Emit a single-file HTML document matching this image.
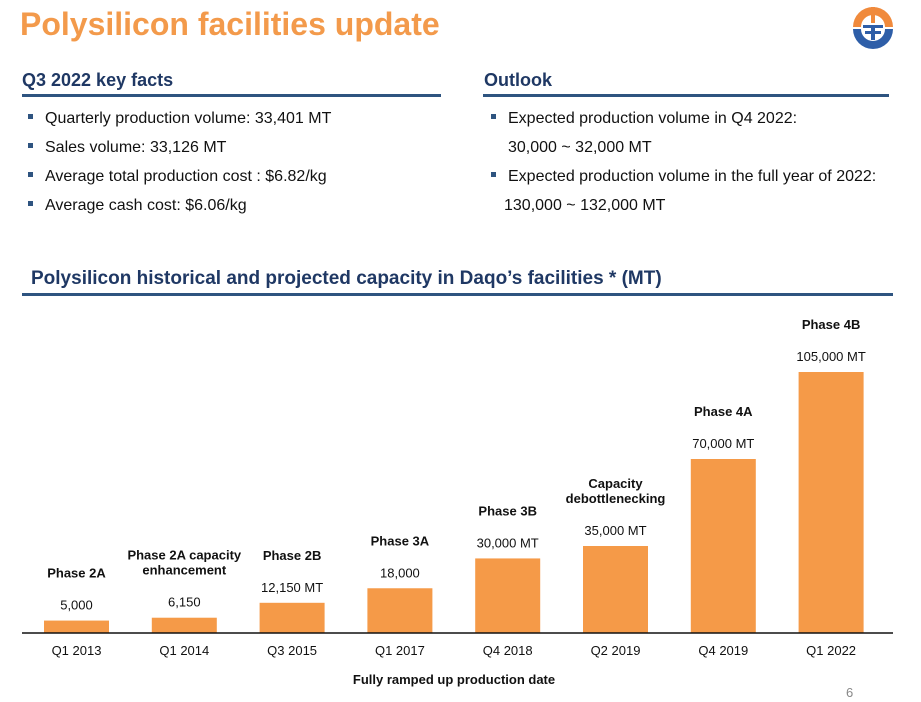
<!DOCTYPE html>
<html><head><meta charset="utf-8"><style>
body{margin:0;width:921px;height:702px;background:#fff;font-family:"Liberation Sans",sans-serif;position:relative;overflow:hidden}
.a{position:absolute;white-space:nowrap}
.h{color:#1F3864;font-weight:bold;font-size:18px}
.ln{position:absolute;height:3px;background:#2E5480}
.b{font-size:16px;color:#111}
.sq{display:inline-block;width:5px;height:5px;background:#2E5480;margin-right:12px;vertical-align:middle;position:relative;top:-2px}
</style></head><body>
<div class="a" style="left:20px;top:6px;font-size:32px;font-weight:bold;color:#F39A4B">Polysilicon facilities update</div>
<svg class="a" style="left:851px;top:5px" width="44" height="44" viewBox="0 0 44 44">
<path d="M2 22 A20 20 0 0 1 42 22 L34 22 A12 12 0 0 0 10 22 Z" fill="#F08A3C"/>
<path d="M2 24 A20 20 0 0 0 42 24 L34 24 A12 12 0 0 1 10 24 Z" fill="#2E5EA8"/>
<rect x="20" y="2" width="4" height="16" fill="#F08A3C"/><rect x="12" y="20" width="20" height="3" fill="#2E5EA8"/><rect x="14" y="26" width="16" height="3" fill="#2E5EA8"/><rect x="20" y="23" width="4" height="12" fill="#2E5EA8"/>
</svg>
<div class="a h" style="left:22px;top:70px">Q3 2022 key facts</div>
<div class="ln" style="left:22px;top:94px;width:419px"></div>
<div class="a h" style="left:484px;top:70px">Outlook</div>
<div class="ln" style="left:483px;top:94px;width:406px"></div>
<div class="a b" style="left:28px;top:110px"><span class="sq"></span>Quarterly production volume: 33,401 MT</div>
<div class="a b" style="left:28px;top:139px"><span class="sq"></span>Sales volume: 33,126 MT</div>
<div class="a b" style="left:28px;top:168px"><span class="sq"></span>Average total production cost : $6.82/kg</div>
<div class="a b" style="left:28px;top:197px"><span class="sq"></span>Average cash cost: $6.06/kg</div>
<div class="a b" style="left:491px;top:110px"><span class="sq"></span>Expected production volume in Q4 2022:</div>
<div class="a b" style="left:508px;top:139px">30,000 ~ 32,000 MT</div>
<div class="a b" style="left:491px;top:168px"><span class="sq"></span>Expected production volume in the full year of 2022:</div>
<div class="a b" style="left:504px;top:197px">130,000 ~ 132,000 MT</div>
<div class="a h" style="left:31px;top:268px;font-size:19px">Polysilicon historical and projected capacity in Daqo’s facilities * (MT)</div>
<div class="ln" style="left:22px;top:293px;width:871px"></div>
<svg class="a" id="chart" style="left:0;top:0" width="921" height="702"></svg>
<div class="a" style="left:846px;top:685px;font-size:13px;color:#888">6</div>
<script>
const categories=["Q1 2013","Q1 2014","Q3 2015","Q1 2017","Q4 2018","Q2 2019","Q4 2019","Q1 2022"];
const values=[5000,6150,12150,18000,30000,35000,70000,105000];
const valueLabels=["5,000","6,150","12,150 MT","18,000","30,000 MT","35,000 MT","70,000 MT","105,000 MT"];
const phases=[["Phase 2A"],["Phase 2A capacity","enhancement"],["Phase 2B"],["Phase 3A"],["Phase 3B"],["Capacity","debottlenecking"],["Phase 4A"],["Phase 4B"]];
const svg=document.getElementById('chart');const NS="http://www.w3.org/2000/svg";
const base=633,scale=261/105000;
const x=i=>44+107.8*i;const y=v=>base-v*scale;const bw=65;
function mk(t,a,txt){const e=document.createElementNS(NS,t);for(const k in a)e.setAttribute(k,a[k]);if(txt!=null)e.textContent=txt;svg.appendChild(e);return e;}
categories.forEach((c,i)=>{
 const top=y(values[i]);const cx=x(i)+bw/2;
 const r=mk('rect',{x:x(i),y:top,width:bw,height:base-top,fill:'#F59A48'});
 
 
 const vl=mk('text',{x:cx,y:top-11,'text-anchor':'middle','font-size':13,fill:'#111'},valueLabels[i]);
 
 
 const p=phases[i];
 p.forEach((s,j)=>{const t=mk('text',{x:cx,y:top-43-(p.length-1-j)*15,'text-anchor':'middle','font-size':13,'font-weight':'bold',fill:'#111'},s);
  
  });
 const cl=mk('text',{x:cx,y:655,'text-anchor':'middle','font-size':13,fill:'#111'},c);
 
 
});
const ax=mk('line',{x1:22,x2:893,y1:base,y2:base,stroke:'#111','stroke-width':1.5});


const xt=mk('text',{x:454,y:684,'text-anchor':'middle','font-size':13,'font-weight':'bold',fill:'#111'},'Fully ramped up production date');


</script>
</body></html>
